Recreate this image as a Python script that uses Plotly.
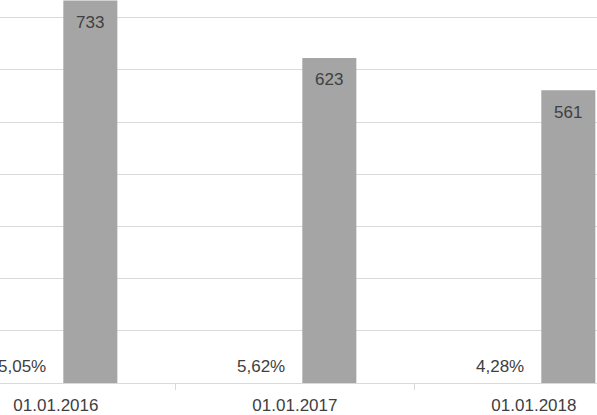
import plotly.graph_objects as go

categories = ["01.01.2016", "01.01.2017", "01.01.2018"]
counts = [733, 623, 561]
shares = ["5,05%", "5,62%", "4,28%"]

FONT = "Liberation Sans"
TXT = "#404040"
BAR = "#a5a5a5"

fig = go.Figure()
fig.add_trace(go.Bar(
    x=categories, y=counts, marker_color=BAR, marker_line_width=0,
    width=0.226, offset=0.031, showlegend=False, hoverinfo="skip",
))

for c, v in zip(categories, counts):
    fig.add_annotation(x=c, y=v, xshift=34, yshift=-22, text=str(v), showarrow=False,
                       font=dict(family=FONT, size=17, color=TXT), yanchor="middle")
for c, s in zip(categories, shares):
    fig.add_annotation(x=c, y=0, xshift=-34, yshift=17, text=s, showarrow=False,
                       font=dict(family=FONT, size=17, color=TXT), yanchor="middle")

fig.update_layout(
    width=597, height=415,
    margin=dict(l=0, r=0, t=0, b=32),
    paper_bgcolor="white", plot_bgcolor="white",
    font=dict(family=FONT, size=17, color=TXT),
    xaxis=dict(
        type="category", range=[-0.234, 2.264], automargin=False,
        showgrid=False, showline=True, linecolor="#d9d9d9", linewidth=1,
        ticks="outside", tickson="boundaries", ticklen=6, tickcolor="#d9d9d9",
        tickfont=dict(family=FONT, size=17, color=TXT), ticklabelstandoff=7,
    ),
    yaxis=dict(
        range=[0, 734], dtick=100, showgrid=True, gridcolor="#d9d9d9", gridwidth=1,
        showticklabels=False, zeroline=False, showline=False, automargin=False,
    ),
)

fig.write_html("out.html", config={"displayModeBar": False, "staticPlot": True},
               post_script="document.body.style.margin='0px';document.body.style.overflow='hidden';")
